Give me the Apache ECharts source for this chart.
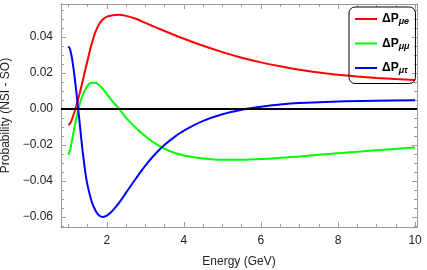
<!DOCTYPE html>
<html>
<head>
<meta charset="utf-8">
<script src="https://cdn.jsdelivr.net/npm/echarts@6/dist/echarts.min.js"></script>
<style>
html,body{margin:0;padding:0;background:#fff;}
#chart{width:427px;height:270px;}
</style>
</head>
<body>
<div id="chart"></div>
<script>
// Data
const energyMuE = [1.0, 1.05, 1.1, 1.2, 1.3, 1.4, 1.5, 1.6, 1.7, 1.8, 1.9, 2.0, 2.15, 2.3, 2.5, 2.75, 3.0, 3.25, 3.5, 3.75, 4.0, 4.5, 5.0, 5.5, 6.0, 6.5, 7.0, 7.5, 8.0, 8.5, 9.0, 9.5, 10.0];
const dPmuE    = [-0.0089, -0.0080, -0.0055, 0.0010, 0.0090, 0.0180, 0.0270, 0.0355, 0.0425, 0.0470, 0.0497, 0.0512, 0.0520, 0.0522, 0.0516, 0.0500, 0.0477, 0.0454, 0.0432, 0.0410, 0.0389, 0.0350, 0.0315, 0.0284, 0.0258, 0.0236, 0.0217, 0.0202, 0.0189, 0.0179, 0.0171, 0.0165, 0.0160];

const energyMuMu = [1.0, 1.05, 1.1, 1.2, 1.3, 1.4, 1.5, 1.6, 1.7, 1.8, 1.9, 2.0, 2.15, 2.3, 2.5, 2.75, 3.0, 3.25, 3.5, 3.75, 4.0, 4.5, 5.0, 5.5, 6.0, 7.0, 8.0, 9.0, 10.0];
const dPmuMu    = [-0.0256, -0.0225, -0.0170, -0.0060, 0.0030, 0.0090, 0.0128, 0.0145, 0.0145, 0.0132, 0.0110, 0.0082, 0.0040, 0.0005, -0.0050, -0.0105, -0.0152, -0.0192, -0.0222, -0.0244, -0.0259, -0.0276, -0.0283, -0.0283, -0.0279, -0.0264, -0.0246, -0.0230, -0.0215];

const energyMuTau = [1.0, 1.03, 1.06, 1.1, 1.15, 1.2, 1.25, 1.3, 1.35, 1.4, 1.45, 1.5, 1.6, 1.7, 1.8, 1.9, 2.0, 2.1, 2.2, 2.35, 2.5, 2.75, 3.0, 3.25, 3.5, 3.75, 4.0, 4.5, 5.0, 5.5, 6.0, 6.5, 7.0, 8.0, 9.0, 10.0];
const dPmuTau    = [0.0346, 0.0338, 0.0318, 0.0275, 0.0200, 0.0110, 0.0010, -0.0090, -0.0195, -0.0285, -0.0365, -0.0425, -0.0510, -0.0563, -0.0592, -0.0600, -0.0593, -0.0576, -0.0553, -0.0512, -0.0465, -0.0388, -0.0315, -0.0252, -0.0200, -0.0157, -0.0121, -0.0067, -0.0030, -0.0005, 0.0012, 0.0024, 0.0032, 0.0041, 0.0045, 0.0047];

const xMajorTicks = [2, 4, 6, 8, 10];
const xMinorTicks = [1, 1.5, 2.5, 3, 3.5, 4.5, 5, 5.5, 6.5, 7, 7.5, 8.5, 9, 9.5];
const yMajorTicks = [-0.06, -0.04, -0.02, 0, 0.02, 0.04];
const yMinorTicks = [-0.065, -0.055, -0.05, -0.045, -0.035, -0.03, -0.025, -0.015, -0.01, -0.005, 0.005, 0.01, 0.015, 0.025, 0.03, 0.035, 0.045, 0.05, 0.055];

const seriesNames = ['muE', 'muMu', 'muTau'];
const seriesSubs = {muE: 'μe', muMu: 'μμ', muTau: 'μτ'};
const seriesColors = ['#ff0000', '#00ff00', '#0000ff'];

const pair = (xs, ys) => xs.map((x, i) => [x, ys[i]]);
const FONT = 'Liberation Sans, Arial, sans-serif';
const FRAME = '#9a9a9a';

function xAx(pos, ticks, len, labels, extra) {
  return Object.assign({
    type: 'value', min: 0.81, max: 10.05, position: pos,
    axisLine: {show: true, onZero: false, lineStyle: {color: FRAME, width: 1}},
    axisTick: {show: true, inside: true, length: len, customValues: ticks, lineStyle: {color: FRAME}},
    axisLabel: labels ? {show: true, customValues: ticks, color: '#222', fontSize: 12, fontFamily: FONT, margin: 8} : {show: false},
    splitLine: {show: false}
  }, extra || {});
}
function yAx(pos, ticks, len, labels, extra) {
  return Object.assign({
    type: 'value', min: -0.0656, max: 0.0582, position: pos,
    axisLine: {show: true, onZero: false, lineStyle: {color: FRAME, width: 1}},
    axisTick: {show: true, inside: true, length: len, customValues: ticks, lineStyle: {color: FRAME}},
    axisLabel: labels ? {show: true, customValues: ticks, color: '#222', fontSize: 12, fontFamily: FONT, margin: 8,
      formatter: v => (v < -1e-9 ? '\u2212' : '') + Math.abs(v).toFixed(2)} : {show: false},
    splitLine: {show: false}
  }, extra || {});
}

const chart = echarts.init(document.getElementById('chart'), null, {renderer: 'canvas'});
chart.setOption({
  animation: false,
  backgroundColor: '#fff',
  grid: {left: 61, top: 4, right: 10, bottom: 43, containLabel: false, outerBoundsMode: 'none'},
  xAxis: [
    xAx('bottom', xMajorTicks, 5, true, {name: 'Energy (GeV)', nameLocation: 'middle', nameGap: 29,
      nameTextStyle: {color: '#222', fontSize: 12, fontFamily: FONT}}),
    xAx('bottom', xMinorTicks, 3, false),
    xAx('top', xMajorTicks, 5, false),
    xAx('top', xMinorTicks, 3, false)
  ],
  yAxis: [
    yAx('left', yMajorTicks, 5, true, {name: 'Probability (NSI - SO)', nameLocation: 'middle', nameGap: 38,
      nameTextStyle: {color: '#222', fontSize: 12, fontFamily: FONT}}),
    yAx('left', yMinorTicks, 3, false),
    yAx('right', yMajorTicks, 5, false),
    yAx('right', yMinorTicks, 3, false)
  ],
  legend: {
    left: 349, top: 7, orient: 'vertical',
    padding: [6, 6, 8, 6], itemGap: 11, itemWidth: 22, itemHeight: 14,
    borderColor: '#000', borderWidth: 1, borderRadius: 6,
    backgroundColor: 'transparent',
    data: seriesNames.map(n => ({name: n, icon: 'path://M0,0L22,0L22,2L0,2Z'})),
    formatter: n => '{b|ΔP}{s|' + seriesSubs[n] + '}',
    textStyle: {
      rich: {
        b: {fontWeight: 'bold', fontSize: 12, fontFamily: FONT, color: '#000'},
        s: {fontWeight: 'bold', fontStyle: 'italic', fontSize: 9, fontFamily: FONT, color: '#000', padding: [6, 0, 0, 0]}
      }
    }
  },
  series: [
    {name: 'muE', type: 'line', data: pair(energyMuE, dPmuE), color: seriesColors[0]},
    {name: 'muMu', type: 'line', data: pair(energyMuMu, dPmuMu), color: seriesColors[1]},
    {name: 'muTau', type: 'line', data: pair(energyMuTau, dPmuTau), color: seriesColors[2],
      markLine: {silent: true, symbol: 'none', label: {show: false},
        lineStyle: {color: '#000', width: 2, type: 'solid'}, data: [{yAxis: 0}]}}
  ].map(s => Object.assign({smooth: 0.3, showSymbol: false, symbol: 'none', clip: true,
    lineStyle: {width: 2, color: s.color}}, s))
});
</script>
</body>
</html>
